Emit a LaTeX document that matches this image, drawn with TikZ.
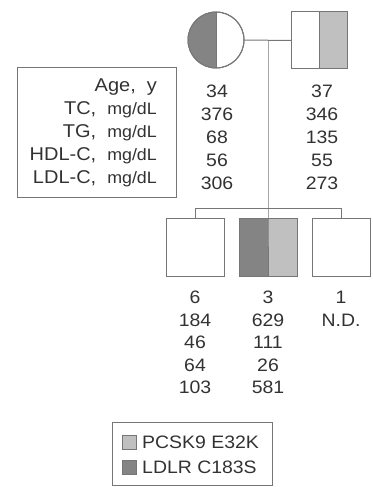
\documentclass[tikz,border=0pt]{standalone}
\usepackage{fontspec}
\setmainfont{Liberation Sans}[FakeStretch=1.08]
\usepackage{xcolor}
\usepackage{tikz}
\definecolor{ldlrgray}{RGB}{132, 132, 132}
\definecolor{pcskgray}{RGB}{192, 192, 192}
\definecolor{pedline}{RGB}{118, 118, 118}
\definecolor{inkgray}{RGB}{50, 50, 50}
\newcommand{\unitsz}[1]{{\fontsize{16.5}{16.5}\selectfont #1}}
\newcommand{\gapc}{,\hspace{11pt}}

\begin{document}
\begin{tikzpicture}[x=1pt, y=1pt,
    person/.style={draw=pedline, line width=1pt, inner sep=0pt, outer sep=0pt},
    male/.style={person, rectangle, minimum width=56pt, minimum height=57pt},
    kid/.style={person, rectangle, minimum size=58pt},
    female/.style={person, circle, minimum size=56pt},
    val/.style={text=inkgray, font=\fontsize{18}{18}\selectfont, inner sep=0pt},
    lab/.style={val, anchor=east, font=\fontsize{18.5}{18.5}\selectfont},
    swatch/.style={draw=pedline, line width=0.6pt, minimum size=14pt, inner sep=0pt}]
    \useasboundingbox (0,0) rectangle (372,-487);

    % Parents
    \node[female] (mother) at (216,-40) {};
    \node[male] (father) at (319.5,-40.5) {};
    \fill[ldlrgray] (mother.south) arc[start angle=270, end angle=90, radius=28pt] -- cycle;
    \fill[pcskgray] (father.north) rectangle (father.south east);
    \draw[pedline, line width=1pt] (mother.north) -- (mother.south);
    \draw[pedline, line width=1pt] (father.north) -- (father.south);
    \node[female] at (mother) {};
    \node[male] at (father) {};

    % Children
    \node[kid] (kidA) at (195,-247) {};
    \node[kid] (kidB) at (268,-247) {};
    \node[kid] (kidC) at (341,-247) {};
    \fill[ldlrgray] (kidB.north west) rectangle (kidB.south);
    \fill[pcskgray] (kidB.north) rectangle (kidB.south east);
    \node[kid] at (kidB) {};

    % Lines of descent
    \coordinate (union) at (268,-40);
    \coordinate (sibL) at (195,-208);
    \coordinate (sibR) at (341,-208);
    \draw[pedline, line width=1pt] (mother.east) -- (father.west);
    \draw[pedline, line width=1pt] (union) -- (kidB.north) -- (kidB.south);
    \draw[pedline, line width=1pt] (kidA.north) -- (sibL) -- (sibR) -- (kidC.north);

    % Data box
    \draw[pedline, line width=0.8pt] (17,-67) rectangle (176,-197);
    \node[lab] (labAge) at (157,-87) {Age\gapc y};
    \node[lab] (labTC) at (157,-110) {TC\gapc\unitsz{mg/dL}};
    \node[lab] (labTG) at (157,-133) {TG\gapc\unitsz{mg/dL}};
    \node[lab] (labHDL) at (157,-156) {HDL-C\gapc\unitsz{mg/dL}};
    \node[lab] (labLDL) at (157,-179) {LDL-C\gapc\unitsz{mg/dL}};

    % Mother values
    \node[val] (mAge) at (217,-91) {34};
    \node[val] (mTC) at (217,-114) {376};
    \node[val] (mTG) at (217,-137) {68};
    \node[val] (mHDL) at (217,-160) {56};
    \node[val] (mLDL) at (217,-183) {306};

    % Father values
    \node[val] (fAge) at (322,-91) {37};
    \node[val] (fTC) at (322,-114) {346};
    \node[val] (fTG) at (322,-137) {135};
    \node[val] (fHDL) at (322,-160) {55};
    \node[val] (fLDL) at (322,-183) {273};

    % Children values
    \node[val] (aAge) at (195,-297) {6};
    \node[val] (aTC) at (195,-320) {184};
    \node[val] (aTG) at (195,-342) {46};
    \node[val] (aHDL) at (195,-365) {64};
    \node[val] (aLDL) at (195,-387) {103};
    \node[val] (bAge) at (268,-297) {3};
    \node[val] (bTC) at (268,-320) {629};
    \node[val] (bTG) at (268,-342) {111};
    \node[val] (bHDL) at (268,-365) {26};
    \node[val] (bLDL) at (268,-387) {581};
    \node[val] (cAge) at (341,-297) {1};
    \node[val] (cTC) at (341,-320) {N.D.};

    % Legend
    \draw[pedline, line width=0.8pt] (112,-422) rectangle (272,-485);
    \node[swatch, fill=pcskgray] (swPCSK) at (129.5,-442) {};
    \node[swatch, fill=ldlrgray] (swLDLR) at (129.5,-467) {};
    \node[val, anchor=west] (txPCSK) at (142,-442) {PCSK9 E32K};
    \node[val, anchor=west] (txLDLR) at (142,-467) {LDLR C183S};
\end{tikzpicture}
\end{document}
